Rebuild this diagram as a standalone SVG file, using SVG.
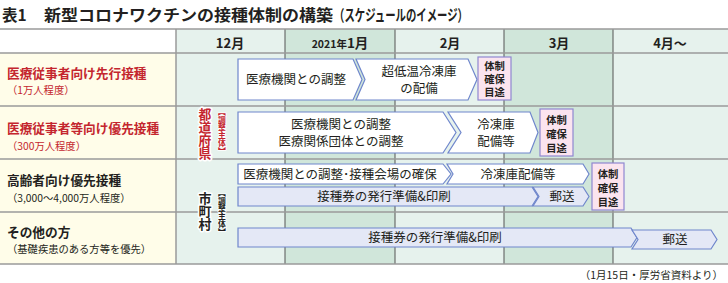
<svg xmlns="http://www.w3.org/2000/svg" width="728" height="283" viewBox="0 0 728 283">
<style>
text{font-family:"Noto Sans CJK JP","Noto Sans",sans-serif;fill:#231f20}
.title{font-size:15.5px;font-weight:bold}
.hd{font-size:13px;font-weight:bold;text-anchor:middle}
.lbl{font-size:12.7px;font-weight:bold}
.red{fill:#c4262e}
.sub{font-size:10.3px}
.at{font-size:12.5px;text-anchor:middle}
.bt{font-size:10.3px;font-weight:bold;text-anchor:middle}
.ar{fill:#ffffff;stroke:#6f86cc;stroke-width:1.2}
.ar2{fill:#e4e8f6;stroke:#6f86cc;stroke-width:1.2}
.bx{fill:#fbe4ef;stroke:#9087d0;stroke-width:1.2}
.lg{fill:#e6f2ed}
.dg{fill:#d0e6da}
.cr{fill:#fffde9}
.gl{stroke:#9a9a9a;stroke-width:1.5;fill:none}
.ml{stroke:#555;stroke-width:1;fill:none}
.vt{writing-mode:vertical-rl;font-weight:bold;paint-order:stroke;stroke:#fff;stroke-linejoin:round}
</style>
<rect width="728" height="283" fill="#fff"/>
<g id="title">
<text class="title" x="2" y="21">表1</text>
<text class="title" x="44" y="21" textLength="289" lengthAdjust="spacingAndGlyphs">新型コロナワクチンの接種体制の構築</text>
<text class="title" x="334" y="21" font-size="15" textLength="134" lengthAdjust="spacingAndGlyphs">（スケジュールのイメージ）</text>
</g>
<g id="grid">
<rect x="0" y="29" width="176" height="24" fill="#fff"/>
<rect class="cr" x="0" y="53" width="176" height="211"/>
<rect class="lg" x="176" y="29" width="109" height="235"/>
<rect class="dg" x="285" y="29" width="110" height="235"/>
<rect class="lg" x="395" y="29" width="109" height="235"/>
<rect class="dg" x="504" y="29" width="109" height="235"/>
<rect class="lg" x="613" y="29" width="115" height="235"/>
<path class="ml" d="M285,29V264M395,29V264M504,29V264M613,29V264"/>
<path class="gl" d="M0,53H728M0,106H728M0,159H728M0,212H728"/>
<path class="gl" stroke-width="2" d="M0,29H728M0,264H728M176,29V264"/>
</g>
<g id="header">
<text class="hd" x="230" y="48">12月</text>
<text class="hd" x="340" y="48"><tspan font-size="10.5">2021年</tspan><tspan font-size="13.5">1月</tspan></text>
<text class="hd" x="450" y="48">2月</text>
<text class="hd" x="559" y="48">3月</text>
<text class="hd" x="670" y="48">4月～</text>
</g>
<g id="row-labels">
<text class="lbl red" x="7" y="78">医療従事者向け先行接種</text>
<text class="sub red" x="7" y="94">（1万人程度）</text>
<text class="lbl red" x="7" y="133">医療従事者等向け優先接種</text>
<text class="sub red" x="7" y="150">（300万人程度）</text>
<text class="lbl" x="7" y="185">高齢者向け優先接種</text>
<text class="sub" x="7" y="202">（3,000～4,000万人程度）</text>
<text class="lbl" x="7" y="237">その他の方</text>
<text class="sub" x="7" y="253">（基礎疾患のある方等を優先）</text>
</g>
<g id="authority-pref">
<text class="vt red" x="205" y="108" font-size="12.8" stroke-width="3" style="fill:#c4262e">都道府県</text>
<text class="vt red" x="222" y="108" font-size="7.8" stroke-width="1.5" style="fill:#c4262e">【調整主体】</text>
</g>
<g id="authority-muni">
<text class="vt" x="205" y="192" font-size="13" stroke-width="3">市町村</text>
<text class="vt" x="222" y="189" font-size="7.8" stroke-width="1.5">【調整主体】</text>
</g>
<g id="connectors"></g>
<g id="r1-coord">
<path class="ar" d="M238,59H353L362,79.5L353,100H238Z"/>
<text class="at" x="296" y="84">医療機関との調整</text>
</g>
<g id="r1-freezer">
<path class="ar" d="M356,59H468L477,79.5L468,100H356L365,79.5Z"/>
<text class="at" y="76"><tspan x="419">超低温冷凍庫</tspan><tspan x="419" dy="17">の配備</tspan></text>
</g>
<g id="r1-goal">
<rect class="bx" x="478" y="57" width="33" height="43"/>
<text class="bt" y="70"><tspan x="494.5">体制</tspan><tspan x="494.5" dy="13">確保</tspan><tspan x="494.5" dy="13">目途</tspan></text>
</g>
<g id="r2-coord">
<path class="ar" d="M238,112H443L456,132.5L443,153H238Z"/>
<text class="at" y="129"><tspan x="341">医療機関との調整</tspan><tspan x="341" dy="17">医療関係団体との調整</tspan></text>
</g>
<g id="r2-freezer">
<path class="ar" d="M448,112H530L538,132.5L530,153H448L461,132.5Z"/>
<text class="at" y="129"><tspan x="496">冷凍庫</tspan><tspan x="496" dy="17">配備等</tspan></text>
</g>
<g id="r2-goal">
<rect class="bx" x="540" y="109" width="33" height="47"/>
<text class="bt" y="124"><tspan x="556.5">体制</tspan><tspan x="556.5" dy="14">確保</tspan><tspan x="556.5" dy="14">目途</tspan></text>
</g>
<g id="r3-coord">
<path class="ar" d="M238,164H443L451,174L443,184H238Z"/>
<text class="at" x="340" y="178.5">医療機関との調整･接種会場の確保</text>
</g>
<g id="r3-freezer">
<path class="ar" d="M447,164H583L589,174L583,184H447L453,174Z"/>
<text class="at" x="518" y="178.5">冷凍庫配備等</text>
</g>
<g id="r3-ticket">
<path class="ar2" d="M238,187H532L538,196.5L532,206H238Z"/>
<text class="at" x="384" y="201">接種券の発行準備&amp;印刷</text>
</g>
<g id="r3-mail">
<path class="ar2" d="M533,187H583L589,196.5L583,206H533L539,196.5Z"/>
<text class="at" x="562" y="201">郵送</text>
</g>
<g id="r3-goal">
<rect class="bx" x="592" y="163" width="32" height="47"/>
<text class="bt" y="178"><tspan x="608">体制</tspan><tspan x="608" dy="14">確保</tspan><tspan x="608" dy="14">目途</tspan></text>
</g>
<g id="r4-ticket">
<path class="ar2" d="M238,228H631L637,237.5L631,247H238Z"/>
<text class="at" x="435" y="242">接種券の発行準備&amp;印刷</text>
</g>
<g id="r4-mail">
<path class="ar2" d="M632,230H711L717,239.5L711,249H632L638,239.5Z"/>
<text class="at" x="675" y="244">郵送</text>
</g>
<g id="source">
<text x="723" y="279" font-size="10.5" text-anchor="end">（1月15日・厚労省資料より）</text>
</g>
</svg>
